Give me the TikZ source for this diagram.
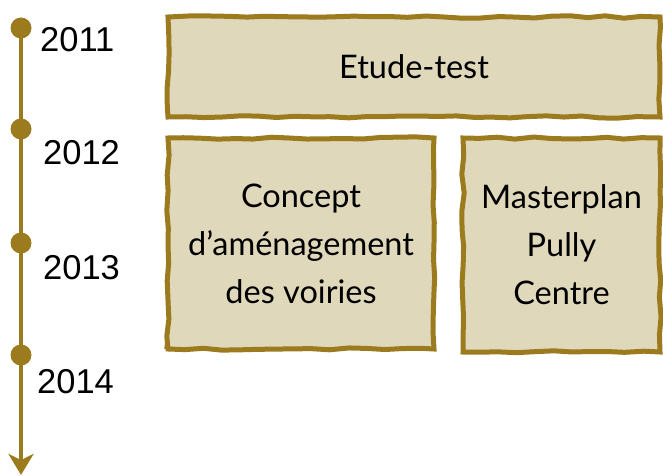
\documentclass[tikz,border=0pt]{standalone}
\usepackage{fontspec}
\setmainfont{Lato}
\newfontfamily\yearfont{Liberation Sans}
\usepackage{xcolor}
\usetikzlibrary{arrows.meta,decorations.pathmorphing}
\definecolor{ochre}{HTML}{9C7A1E}
\definecolor{sand}{HTML}{E0D8BB}

\begin{document}
\begin{tikzpicture}[
            x=1pt, y=1pt,
            box/.style={fill=sand, draw=ochre, line width=5pt, align=center,
                font=\fontsize{32.5}{48}\selectfont, text=black,
                decorate, decoration={random steps, segment length=18pt, amplitude=1.2pt},
                postaction={draw=ochre, line width=2pt, decorate,
                    decoration={random steps, segment length=30pt, amplitude=1.8pt}}},
            dot/.style={circle, fill=ochre, minimum size=21pt, inner sep=0pt},
            year/.style={anchor=west, inner sep=0pt, font=\yearfont\fontsize{34.5}{38}\selectfont}
        ]
            \pgfmathsetseed{7}
            \useasboundingbox (0,0) rectangle (663,475);

            % timeline
            \node[dot] (d11) at (21,447) {};
            \node[dot] (d12) at (21,346) {};
            \node[dot] (d13) at (21,232) {};
            \node[dot] (d14) at (21,120) {};
            \coordinate (tend) at (21,0);
            \draw[ochre, line width=4pt, -{Stealth[width=25pt, length=21pt, inset=6pt]}] (d11.center) -- (tend);

            \node[year] (y11) at (40,435) {2011};
            \node[year] (y12) at (43,322) {2012};
            \node[year] (y13) at (43,207) {2013};
            \node[year] (y14) at (37,93) {2014};

            % projects
            \node[box, minimum width=492pt, minimum height=100pt] (etude) at (414,408) {Etude-test};
            \node[box, minimum width=266pt, minimum height=211pt] (concept) at (301,231.5) {Concept\\d’aménagement\\des voiries};
            \node[box, minimum width=197pt, minimum height=214pt] (master) at (561.5,230) {Masterplan\\Pully\\Centre};
        \end{tikzpicture}
\end{document}
